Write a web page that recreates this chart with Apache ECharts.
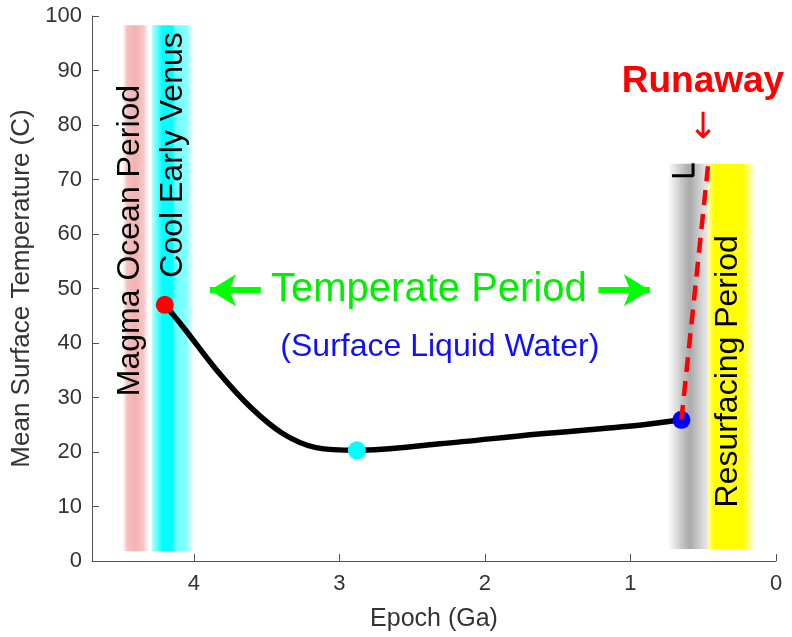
<!DOCTYPE html>
<html>
<head>
<meta charset="utf-8">
<script src="https://cdn.jsdelivr.net/npm/echarts@6/dist/echarts.min.js"></script>
<style>
  html, body { margin: 0; padding: 0; background: #fff; }
  #chart { width: 792px; height: 637px; }
</style>
</head>
<body>
<div id="chart"></div>
<script>
// Mean surface temperature history of Venus (epoch in Ga, temperature in C)
const epochCurve = [4.2, 4.07, 3.84, 3.61, 3.39, 3.16, 2.88, 2.31, 1.63, 0.94, 0.65];
const tempCurve  = [47.0, 42.8, 34.9, 28.2, 23.4, 20.8, 20.3, 21.5, 23.3, 24.9, 25.9];

// Key states: start of temperate period, minimum, onset of runaway
const keyEpochs = [4.2, 2.88, 0.65];
const keyTemps  = [47.0, 20.3, 25.9];
const keyColors = ['#ff0000', '#00ffff', '#0000ff'];

// Runaway greenhouse track
const runawayEpochs = [0.65, 0.465];
const runawayTemps  = [25.9, 73.0];

// Small black corner mark at top of the transition band
const cornerEpochs = [0.715, 0.57, 0.57];
const cornerTemps  = [70.7, 70.7, 73.0];

// Period bands: epoch range and temperature extent
const bandNames  = ['Magma Ocean Period', 'Cool Early Venus', 'Transition', 'Resurfacing Period'];
const bandStart  = [4.49, 4.29, 0.742, 0.467];
const bandEnd    = [4.31, 4.005, 0.467, 0.144];
const bandBottom = [1.8, 1.8, 2.2, 2.2];
const bandTop    = [98.3, 98.3, 72.9, 72.9];

// Axis ticks
const xTicks = [0, 1, 2, 3, 4];
const yTicks = [0, 10, 20, 30, 40, 50, 60, 70, 80, 90, 100];

const FONT = '"Liberation Sans", Arial, Helvetica, sans-serif';
const grad = (stops) => new echarts.graphic.LinearGradient(0, 0, 1, 0,
  stops.map(([offset, color]) => ({ offset, color })));

const bandFills = [
  grad([[0, 'rgba(244,180,180,0)'], [0.18, 'rgba(244,180,180,0.85)'], [0.5, '#f3b1b1'],
        [0.8, 'rgba(244,185,185,0.8)'], [1, 'rgba(244,190,190,0)']]),
  grad([[0, 'rgba(0,255,255,0.25)'], [0.1, 'rgba(0,255,255,0.55)'], [0.26, '#00ffff'],
        [0.5, '#00ffff'], [0.56, 'rgba(0,255,255,0.6)'], [0.85, 'rgba(0,255,255,0.45)'],
        [1, 'rgba(0,255,255,0)']]),
  grad([[0, 'rgba(165,165,165,0)'], [0.35, 'rgba(165,165,165,0.65)'], [0.55, '#a9a9a9'],
        [0.78, '#cdcdcd'], [1, '#ebebeb']]),
  grad([[0, '#ffffa8'], [0.12, '#ffff00'], [0.75, '#ffff00'], [1, 'rgba(255,255,0,0)']])
];

const bandAreas = bandNames.map((name, i) => [
  { name, coord: [bandStart[i], bandTop[i]], itemStyle: { color: bandFills[i], opacity: 1 } },
  { coord: [bandEnd[i], bandBottom[i]] }
]);

// Annotations placed in data coordinates
const notes = [
  { text: 'Magma Ocean Period', at: [4.44, 58.8], rotate: 90, color: '#000', size: 32, weight: 'normal' },
  { text: 'Cool Early Venus', at: [4.145, 74.5], rotate: 90, color: '#000', size: 32, weight: 'normal' },
  { text: 'Resurfacing Period', at: [0.33, 34.8], rotate: 90, color: '#000', size: 32, weight: 'normal' },
  { text: 'Temperate Period', at: [2.385, 49.7], rotate: 0, color: '#00ee00', size: 40, weight: 'normal' },
  { text: '(Surface Liquid Water)', at: [2.31, 39.2], rotate: 0, color: '#1010ff', size: 32, weight: 'normal' },
  { text: 'Runaway', at: [0.502, 88.0], rotate: 0, color: '#ff0000', size: 37, weight: 'bold' }
];

const chart = echarts.init(document.getElementById('chart'), null, { renderer: 'canvas' });

chart.setOption({
  animation: false,
  backgroundColor: '#ffffff',
  grid: { left: 92, right: 16, top: 16, bottom: 72, containLabel: false },
  xAxis: {
    type: 'value', min: 0, max: 4.7, interval: 1, inverse: true,
    name: 'Epoch (Ga)', nameLocation: 'middle', nameGap: 46,
    nameTextStyle: { fontSize: 25, color: '#333', fontFamily: FONT },
    axisLine: { show: true, onZero: false, lineStyle: { color: '#555', width: 1 } },
    axisTick: { show: true, inside: true, length: 7, lineStyle: { color: '#555' } },
    axisLabel: {
      fontSize: 22, color: '#333', fontFamily: FONT, margin: 12,
      formatter: (v) => (xTicks.includes(v) ? String(v) : '')
    },
    splitLine: { show: false }
  },
  yAxis: {
    type: 'value', min: 0, max: 100, interval: 10,
    name: 'Mean Surface Temperature (C)', nameLocation: 'middle', nameGap: 57,
    nameTextStyle: { fontSize: 26, color: '#333', fontFamily: FONT },
    axisLine: { show: true, onZero: false, lineStyle: { color: '#555', width: 1 } },
    axisTick: { show: true, inside: true, length: 7, lineStyle: { color: '#555' } },
    axisLabel: {
      fontSize: 22, color: '#333', fontFamily: FONT, margin: 10,
      formatter: (v) => (yTicks.includes(v) ? String(v) : '')
    },
    splitLine: { show: false }
  },
  series: [
    {
      // period bands
      type: 'line', data: [], z: 1, silent: true,
      markArea: { silent: true, label: { show: false }, data: bandAreas }
    },
    {
      // arrows on either side of the temperate period label
      type: 'line', data: [], z: 3, silent: true,
      markLine: {
        silent: true, symbol: ['none', 'arrow'], symbolSize: [24, 26], label: { show: false },
        lineStyle: { color: '#00ff00', width: 6, type: 'solid', opacity: 1 },
        data: [
          [{ coord: [3.54, 49.7] }, { coord: [3.89, 49.7] }],
          [{ coord: [1.22, 49.7] }, { coord: [0.867, 49.7] }]
        ]
      }
    },
    {
      name: 'Temperature', type: 'line', z: 4,
      data: epochCurve.map((e, i) => [e, tempCurve[i]]),
      smooth: 0.35, showSymbol: false, symbol: 'none',
      lineStyle: { color: '#000', width: 5.5, cap: 'round' }
    },
    {
      type: 'line', z: 4, data: cornerEpochs.map((e, i) => [e, cornerTemps[i]]),
      showSymbol: false, symbol: 'none', lineStyle: { color: '#000', width: 3 }
    },
    {
      type: 'scatter', z: 5, symbolSize: 18,
      data: keyEpochs.map((e, i) => ({ value: [e, keyTemps[i]], itemStyle: { color: keyColors[i], opacity: 1 } }))
    },
    {
      name: 'Runaway', type: 'line', z: 6,
      data: runawayEpochs.map((e, i) => [e, runawayTemps[i]]),
      showSymbol: false, symbol: 'none',
      lineStyle: { color: '#ff0000', width: 4.5, type: [15, 9] }
    },
    {
      type: 'scatter', z: 7, symbolSize: 0, silent: true, itemStyle: { opacity: 1 },
      data: notes.map((n) => ({
        value: n.at,
        label: {
          show: true, position: 'inside', formatter: n.text, rotate: n.rotate,
          color: n.color, fontSize: n.size, fontWeight: n.weight, fontFamily: FONT
        }
      }))
    },
    {
      type: 'scatter', z: 7, symbolSize: 0, silent: true, itemStyle: { opacity: 1 },
      data: [{
        value: [0.502, 79.3],
        label: { show: true, position: 'inside', formatter: '\u2193', color: '#ff0000',
                 fontSize: 36, fontFamily: '"DejaVu Sans", sans-serif' }
      }]
    }
  ]
});
</script>
</body>
</html>
